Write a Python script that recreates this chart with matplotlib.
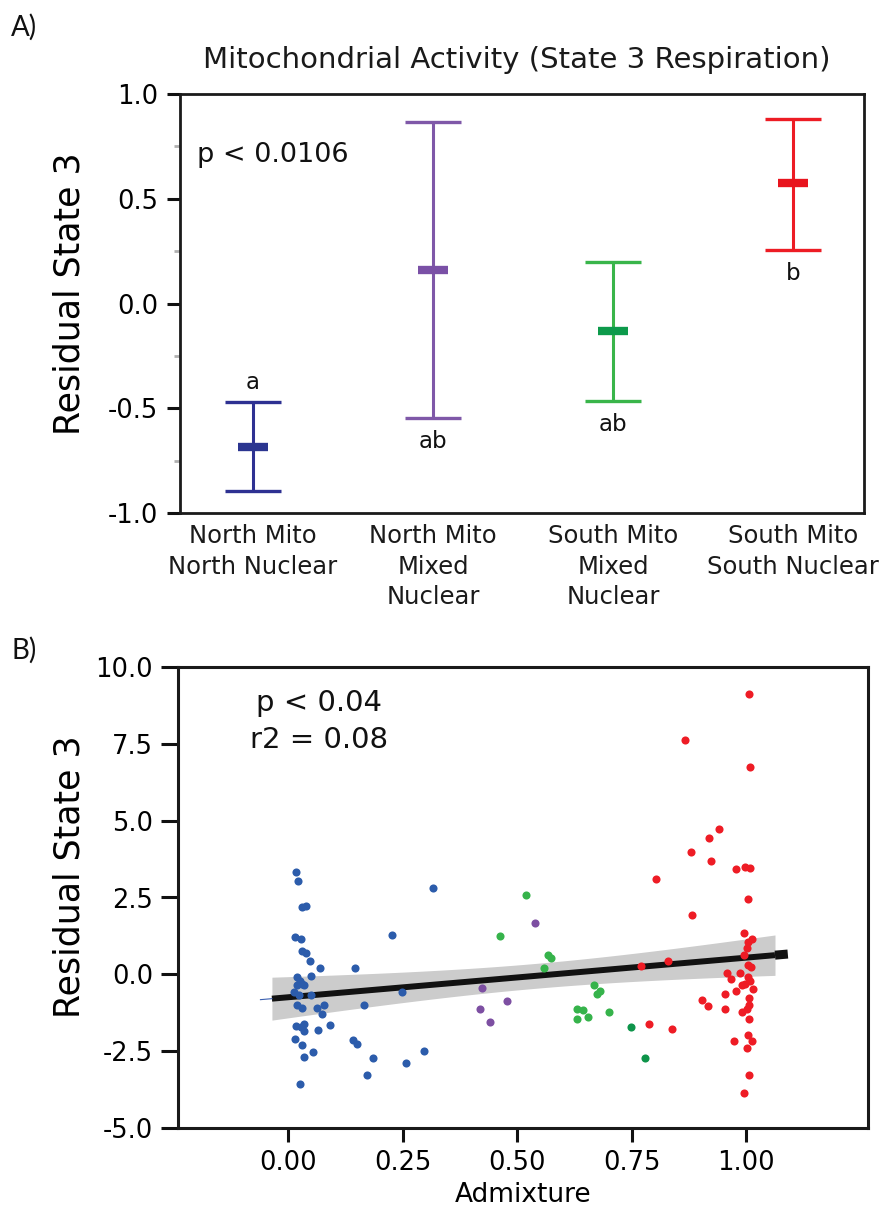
import numpy as np
import matplotlib
matplotlib.use("Agg")
import matplotlib.pyplot as plt

plt.rcParams['font.family'] = ['DejaVu Sans']
plt.rcParams['axes.unicode_minus'] = False

# ---------------- Panel A data ----------------
groups = ['North Mito\nNorth Nuclear', 'North Mito\nMixed\nNuclear',
          'South Mito\nMixed\nNuclear', 'South Mito\nSouth Nuclear']
means = [-0.684, 0.162, -0.133, 0.573]
upper = [-0.470, 0.868, 0.197, 0.880]
lower = [-0.895, -0.548, -0.467, 0.257]
letters = ['a', 'ab', 'ab', 'b']
letter_above = [True, False, False, False]
bar_colors = ['#2e3192', '#7f58a8', '#39b54a', '#ed1c24']
mean_colors = ['#2b3590', '#7a50a6', '#0d9a4b', '#e8141e']

# ---------------- Panel B data ----------------
blue_x = [0.017, 0.023, 0.030, 0.040, 0.015, 0.028, 0.030, 0.040, 0.048, 0.070,
          0.020, 0.027, 0.050, 0.020, 0.030, 0.036, 0.014, 0.024, 0.051, 0.020,
          0.030, 0.063, 0.079, 0.075, 0.017, 0.029, 0.036, 0.034, 0.065, 0.092,
          0.016, 0.030, 0.054, 0.035, 0.027, 0.146, 0.227, 0.317, 0.249, 0.167,
          0.142, 0.150, 0.186, 0.172, 0.298, 0.257]
blue_y = [3.33, 3.05, 2.18, 2.22, 1.22, 1.15, 0.77, 0.68, 0.42, 0.21,
          -0.09, -0.23, -0.05, -0.36, -0.31, -0.36, -0.58, -0.68, -0.66, -0.99,
          -1.08, -1.10, -1.00, -1.28, -1.68, -1.71, -1.62, -1.84, -1.80, -1.66,
          -2.10, -2.29, -2.52, -2.70, -3.57, 0.21, 1.29, 2.82, -0.58, -1.01,
          -2.15, -2.26, -2.73, -3.29, -2.50, -2.87]
purple_x = [0.539, 0.423, 0.479, 0.419, 0.441]
purple_y = [1.67, -0.44, -0.88, -1.12, -1.55]
green_x = [0.520, 0.463, 0.568, 0.575, 0.559, 0.669, 0.680, 0.674, 0.630, 0.645,
           0.630, 0.654, 0.700]
green_y = [2.59, 1.25, 0.62, 0.53, 0.22, -0.36, -0.54, -0.65, -1.13, -1.15,
           -1.45, -1.40, -1.24]
dkgreen_x = [0.749, 0.780]
dkgreen_y = [-1.72, -2.72]
red_x = [1.006, 0.867, 1.009, 0.940, 0.918, 0.879, 0.923, 0.804, 0.977, 0.998,
         1.008, 1.004, 0.882, 0.996, 1.012, 1.003, 1.001, 0.996, 0.830, 0.771,
         1.005, 1.011, 0.959, 0.967, 0.987, 1.003, 1.009, 1.014, 0.991, 0.998,
         0.978, 0.954, 0.904, 0.917, 0.954, 1.006, 1.007, 1.001, 0.991, 1.007,
         0.789, 0.838, 1.005, 1.012, 0.973, 1.001, 1.007, 0.995]
red_y = [9.11, 7.61, 6.74, 4.74, 4.42, 3.99, 3.70, 3.10, 3.42, 3.50,
         3.47, 2.44, 1.93, 1.34, 1.16, 1.05, 0.87, 0.62, 0.42, 0.26,
         0.31, 0.24, 0.04, -0.14, 0.04, -0.10, -0.23, -0.47, -0.36, -0.33,
         -0.53, -0.65, -0.85, -1.02, -1.14, -0.77, -1.01, -1.14, -1.23, -1.45,
         -1.63, -1.79, -1.99, -2.18, -2.18, -2.39, -3.28, -3.87]
fit_range = [-0.035, 1.063]
xticks_b = [0.0, 0.25, 0.5, 0.75, 1.0]
yticks_b = [-5.0, -2.5, 0.0, 2.5, 5.0, 7.5, 10.0]
yticks_a = [-1.0, -0.5, 0.0, 0.5, 1.0]

W, H = 882, 1206
fig = plt.figure(figsize=(W / 100, H / 100), dpi=100)

# ================= Panel A =================
axA = fig.add_axes([180 / W, 1 - 513 / H, 684 / W, 419 / H])
xpos = np.arange(len(groups))
for i in range(len(groups)):
    axA.errorbar([xpos[i]], [means[i]],
                 yerr=[[means[i] - lower[i]], [upper[i] - means[i]]],
                 fmt='none', ecolor=bar_colors[i], elinewidth=2.2,
                 capsize=20.5, capthick=2.4)
    axA.plot([xpos[i]], [means[i]], marker='_', ms=22, mew=6,
             color=mean_colors[i], linestyle='none')
    if letter_above[i]:
        axA.annotate(letters[i], (xpos[i], upper[i]), xytext=(0, 14),
                     textcoords='offset points', ha='center', va='center',
                     fontsize=16.5, color='#111111')
    else:
        axA.annotate(letters[i], (xpos[i], lower[i]), xytext=(0, -17),
                     textcoords='offset points', ha='center', va='center',
                     fontsize=16.5, color='#111111')

axA.set_xlim(-0.405, 3.394)
axA.set_ylim(-1.0, 1.0)
axA.set_yticks(yticks_a)
axA.set_yticklabels(['%.1f' % v for v in yticks_a])
axA.set_yticks([-0.75, -0.25, 0.25, 0.75], minor=True)
axA.set_xticks(xpos)
axA.set_xticklabels(groups, fontsize=17.5, linespacing=1.35, color='#1a1a1a')
axA.tick_params(axis='x', length=0, pad=8)
axA.tick_params(axis='y', which='major', length=9.5, width=2.2, labelsize=18.5,
                pad=6, color='#111111')
axA.tick_params(axis='y', which='minor', length=4, width=2, color='#b0b0b0')
for s in axA.spines.values():
    s.set_linewidth(2.0)
    s.set_color('#1a1a1a')
axA.set_ylabel('Residual State 3', fontsize=25)
axA.yaxis.set_label_coords(-0.137, 0.523)
axA.text(0.025, 0.854, 'p < 0.0106', transform=axA.transAxes, fontsize=19.5,
         ha='left', va='center', color='#111111')
fig.text(517 / W, 1 - 60 / H, 'Mitochondrial Activity (State 3 Respiration)',
         ha='center', va='center', fontsize=21, color='#1a1a1a')
fig.text(11 / W, 1 - 27 / H, 'A)', ha='left', va='center', fontsize=20,
         family='Lato', color='#111111')

# ================= Panel B =================
axB = fig.add_axes([178 / W, 1 - 1128 / H, 690 / W, 461 / H])
all_x = np.array(blue_x + purple_x + green_x + dkgreen_x + red_x)
all_y = np.array(blue_y + purple_y + green_y + dkgreen_y + red_y)
slope, intercept = np.polyfit(all_x, all_y, 1)
n = len(all_x)
resid = all_y - (intercept + slope * all_x)
s_err = np.sqrt(np.sum(resid ** 2) / (n - 2))
xbar = all_x.mean()
sxx = np.sum((all_x - xbar) ** 2)
xf = np.linspace(fit_range[0], fit_range[1], 100)
yf = intercept + slope * xf
ci = 1.98 * s_err * np.sqrt(1.0 / n + (xf - xbar) ** 2 / sxx)
axB.fill_between(xf, yf - ci, yf + ci, color='#cccccc', lw=0, zorder=1)
axB.plot(xf, yf, color='#111111', lw=4.3, zorder=3, solid_capstyle='butt')
xe = np.array([fit_range[1], fit_range[1] + 0.028])
axB.plot(xe, intercept + slope * xe, color='#111111', lw=6.5, zorder=3,
         solid_capstyle='butt')
xs = np.array([fit_range[0] - 0.025, fit_range[0]])
axB.plot(xs, intercept + slope * xs, color='#3a5fb0', lw=0.8, zorder=3)

ms = 34
axB.scatter(blue_x, blue_y, s=ms, color='#2c5cab', lw=0, zorder=4)
axB.scatter(purple_x, purple_y, s=ms, color='#7d4fa2', lw=0, zorder=4)
axB.scatter(green_x, green_y, s=ms, color='#36b34b', lw=0, zorder=4)
axB.scatter(dkgreen_x, dkgreen_y, s=ms, color='#0e944a', lw=0, zorder=4)
axB.scatter(red_x, red_y, s=ms, color='#ee1c25', lw=0, zorder=4)

axB.set_xlim(-0.24, 1.266)
axB.set_ylim(-5.0, 10.0)
axB.set_xticks(xticks_b)
axB.set_xticklabels(['%.2f' % v for v in xticks_b])
axB.set_yticks(yticks_b)
axB.set_yticklabels(['%.1f' % v for v in yticks_b])
axB.tick_params(axis='y', length=12, width=2.2, labelsize=18.5, pad=6,
                color='#111111')
axB.tick_params(axis='x', length=10, width=2.2, labelsize=18.5, pad=6,
                color='#111111')
for s in axB.spines.values():
    s.set_linewidth(2.2)
    s.set_color('#1a1a1a')
axB.set_ylabel('Residual State 3', fontsize=25)
axB.yaxis.set_label_coords(-0.133, 0.545)
axB.set_xlabel('Admixture', fontsize=19)
axB.text(0.113, 0.922, 'p < 0.04', transform=axB.transAxes, fontsize=21,
         ha='left', va='center', color='#111111')
axB.text(0.105, 0.842, 'r2 = 0.08', transform=axB.transAxes, fontsize=21,
         ha='left', va='center', color='#111111')
fig.text(11 / W, 1 - 650 / H, 'B)', ha='left', va='center', fontsize=20,
         family='Lato', color='#111111')

fig.savefig('out.png', dpi=100)
